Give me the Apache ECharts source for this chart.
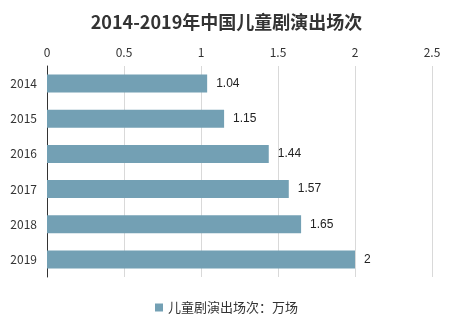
<!DOCTYPE html>
<html><head><meta charset="utf-8">
<script src="https://cdn.jsdelivr.net/npm/echarts@6/dist/echarts.min.js"></script>
<style>html,body{margin:0;padding:0;background:#fff}#c{width:453px;height:323px}</style>
</head><body><div id="c"></div>
<script>
var years = ['2014','2015','2016','2017','2018','2019'];
var values = [1.04, 1.15, 1.44, 1.57, 1.65, 2];
var seriesName = '儿童剧演出场次：万场';
var titleText = '2014-2019年中国儿童剧演出场次';
var font = '"Noto Sans CJK SC", "Open Sans", sans-serif';
var chart = echarts.init(document.getElementById('c'), null, {renderer:'canvas'});
chart.setOption({
  animation:false,
  textStyle:{fontFamily:font},
  title:{text:titleText, left:'center', top:8, textStyle:{fontSize:18, fontWeight:'bold', color:'#333', fontFamily:font}},
  legend:{top:296, left:'center', itemWidth:8, itemHeight:8, itemGap:5, icon:'rect', textStyle:{fontSize:13, color:'#333', fontFamily:font}, data:[seriesName]},
  grid:{left:47, right:21, top:66, bottom:46, containLabel:false},
  xAxis:{type:'value', position:'top', min:0, max:2.5, interval:0.5,
    axisLine:{show:false}, axisTick:{show:false},
    axisLabel:{fontSize:12, color:'#333', margin:8},
    splitLine:{show:true, lineStyle:{color:'#d9d9d9'}}},
  yAxis:{type:'category', inverse:true, data:years,
    axisLine:{show:true, lineStyle:{color:'#333'}}, axisTick:{show:false},
    axisLabel:{fontSize:12, color:'#333', margin:10}},
  series:[{name:seriesName, type:'bar', data:values, barWidth:'51%',
    itemStyle:{color:'#73A0B4'},
    label:{show:true, position:'right', distance:9, fontSize:12, color:'#222', fontFamily:'"Liberation Sans", Arial, sans-serif'}}]
});
</script></body></html>
